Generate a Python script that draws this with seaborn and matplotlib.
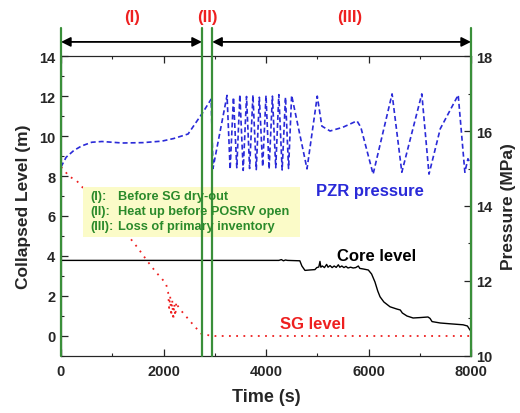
import matplotlib
matplotlib.use('Agg')
import matplotlib.pyplot as plt
from matplotlib.patches import Rectangle
from matplotlib.ticker import MultipleLocator
import seaborn as sns

# values
pzr_time = [0, 100, 250, 400, 600, 800, 1200, 1600, 1970, 2200, 2480, 2770, 2930, 2965,
            3240, 3300, 3365, 3430, 3490, 3555, 3620, 3680, 3745, 3810, 3870, 3935, 4000,
            4060, 4125, 4190, 4250, 4315, 4380, 4440, 4500,
            4800, 5000, 5090, 5250, 5500, 5775, 5850, 6090, 6460, 6650, 7040, 7180, 7400,
            7750, 7880, 7940, 8000]
pzr_pressure = [15.04, 15.3, 15.48, 15.6, 15.7, 15.72, 15.68, 15.69, 15.73, 15.8, 15.92, 16.5, 16.85, 15.0,
                16.95, 14.98, 16.9, 15.02, 16.97, 14.95, 16.92, 15.0, 16.96, 14.97, 16.9, 15.05, 16.95,
                14.98, 16.93, 15.02, 16.97, 14.96, 16.9, 15.0, 16.95,
                14.99, 16.93, 16.13, 16.0, 16.1, 16.27, 16.1, 14.85, 16.99, 14.9, 16.99, 14.85, 16.06,
                16.96, 14.9, 15.26, 15.1]

sg_time = [0, 60, 150, 310, 410, 700, 1000, 1346, 1500, 1680, 1850, 1970, 2050, 2090, 2110,
           2130, 2150, 2170, 2190, 2210, 2230, 2250, 2280, 2350, 2480, 2600, 2750, 3000,
           4000, 5000, 6000, 7000, 8000]
sg_level = [8.45, 8.3, 8.0, 7.75, 7.46, 6.6, 5.8, 4.9, 4.4, 3.76, 3.2, 2.86, 2.6, 2.2, 1.4,
            2.0, 1.0, 1.8, 0.8, 1.6, 1.0, 1.7, 1.5, 1.25, 0.86, 0.5, 0.08, 0.0,
            0.0, 0.0, 0.0, 0.0, 0.0]

core_time = [0, 2000, 4000, 4250, 4300, 4340, 4380, 4420, 4660, 4700, 4760, 4850, 4955, 4990,
             5030, 5053, 5070, 5100, 5140, 5183, 5210, 5250, 5290, 5330, 5370, 5411, 5440,
             5480, 5520, 5560, 5600, 5650, 5700, 5750, 5801, 5830, 5900, 5996, 6060, 6126,
             6180, 6225, 6300, 6420, 6550, 6620, 6660, 6750, 6870, 7000, 7160, 7200, 7240,
             7400, 7590, 7845, 7930, 7980, 8000]
core_level = [3.78, 3.78, 3.78, 3.78, 3.82, 3.76, 3.8, 3.78, 3.76, 3.5, 3.28, 3.3, 3.32, 3.42,
              3.45, 3.73, 3.44, 3.5, 3.42, 3.58, 3.44, 3.52, 3.42, 3.5, 3.43, 3.56, 3.44,
              3.5, 3.42, 3.48, 3.4, 3.44, 3.4, 3.42, 3.5, 3.38, 3.35, 3.3, 3.1, 2.7,
              2.25, 1.96, 1.7, 1.46, 1.35, 1.3, 1.15, 1.0, 0.9, 0.92, 0.95, 0.88, 0.72,
              0.65, 0.61, 0.56, 0.5, 0.3, 0.25]

phase_bounds = [0, 2750, 2950, 8000]
phase_names = ['(I)', '(II)', '(III)']
phase_label_x = [1390, 2850, 5640]
phase_notes = ['Before SG dry-out', 'Heat up before POSRV open', 'Loss of primary inventory']

sns.set_style('ticks')
plt.rcParams['font.family'] = ['Liberation Sans', 'DejaVu Sans']
plt.rcParams['font.weight'] = 'bold'

fig = plt.figure(figsize=(5.2, 4.14), dpi=100)
ax = fig.add_axes([0.1173, 0.1377, 0.7885, 0.7246])
ax2 = ax.twinx()

green = '#3a8f3a'
red = '#ee2020'
blue = '#2a2ad8'

# level curves on the left axis
sns.lineplot(x=core_time, y=core_level, ax=ax, color='black', lw=1.0,
             estimator=None, sort=False)
sns.lineplot(x=sg_time, y=sg_level, ax=ax, color=red, lw=1.3,
             estimator=None, sort=False)
ax.lines[-1].set_linestyle((0, (1, 3)))

# pressurizer pressure on the right axis
sns.lineplot(x=pzr_time, y=pzr_pressure, ax=ax2, color=blue, lw=1.2,
             estimator=None, sort=False)
ax2.lines[-1].set_linestyle((0, (3, 1.8)))

ax.set_xlim(0, 8000)
ax.set_ylim(-1, 14)
ax2.set_ylim(10, 18)
ax.xaxis.set_major_locator(MultipleLocator(2000))
ax.xaxis.set_minor_locator(MultipleLocator(1000))
ax.yaxis.set_major_locator(MultipleLocator(2))
ax.yaxis.set_minor_locator(MultipleLocator(1))
ax2.yaxis.set_major_locator(MultipleLocator(2))
ax2.yaxis.set_minor_locator(MultipleLocator(1))

ax.tick_params(which='both', direction='in', top=True, right=False, labelsize=10.5, pad=4)
ax.tick_params(axis='x', pad=6)
ax.tick_params(which='major', length=5, width=0.9)
ax.tick_params(which='minor', length=2.5, width=0.8)
ax2.tick_params(which='both', direction='in', labelsize=10.5, pad=4)
ax2.tick_params(which='major', length=5, width=0.9)
ax2.tick_params(which='minor', length=2.5, width=0.8)
for a in (ax, ax2):
    for lab in a.get_xticklabels() + a.get_yticklabels():
        lab.set_fontweight('bold')

ax.set_xlabel('Time (s)', fontsize=13, fontweight='bold', labelpad=7)
ax.set_ylabel('Collapsed Level (m)', fontsize=12.5, fontweight='bold', labelpad=6)
ax2.set_ylabel('Pressure (MPa)', fontsize=12.5, fontweight='bold', labelpad=6)

# phase boundaries and arrows above the plot
for b in phase_bounds:
    ax2.axvline(b, ymin=0, ymax=1.093, color=green, lw=1.6, clip_on=False, zorder=6)
ax2.annotate('', xy=(phase_bounds[1], 1.047), xytext=(phase_bounds[0], 1.047),
             xycoords=('data', 'axes fraction'), textcoords=('data', 'axes fraction'),
             arrowprops=dict(arrowstyle='<|-|>', color='black', lw=1.3,
                             shrinkA=0, shrinkB=0, mutation_scale=14))
ax2.annotate('', xy=(phase_bounds[3], 1.047), xytext=(phase_bounds[2], 1.047),
             xycoords=('data', 'axes fraction'), textcoords=('data', 'axes fraction'),
             arrowprops=dict(arrowstyle='<|-|>', color='black', lw=1.3,
                             shrinkA=0, shrinkB=0, mutation_scale=14))
for name, x in zip(phase_names, phase_label_x):
    ax2.text(x, 1.133, name, transform=ax2.get_xaxis_transform(), color=red,
             fontsize=12, fontweight='bold', ha='center', va='center')

# legend box with phase notes
ax2.add_patch(Rectangle((0.0537, 0.397), 0.529, 0.166, transform=ax2.transAxes,
                        facecolor='#fbfbc8', edgecolor='none', zorder=5))
for i, (name, note) in enumerate(zip(phase_names, phase_notes)):
    y = 0.533 - i * 0.05
    ax2.text(0.072, y, name + ':', transform=ax2.transAxes, color='#2a8a2a',
             fontsize=9.2, fontweight='bold', va='center', zorder=7)
    ax2.text(0.138, y, note, transform=ax2.transAxes, color='#2a8a2a',
             fontsize=9.2, fontweight='bold', va='center', zorder=7)

# curve labels
ax.text(6165, 4.0, 'Core level', color='black', fontsize=12, fontweight='bold', ha='center', va='center')
ax.text(4920, 0.62, 'SG level', color=red, fontsize=12, fontweight='bold', ha='center', va='center')
ax.text(6030, 7.26, 'PZR pressure', color=blue, fontsize=12, fontweight='bold', ha='center', va='center')

fig.savefig('out.png', dpi=100)
